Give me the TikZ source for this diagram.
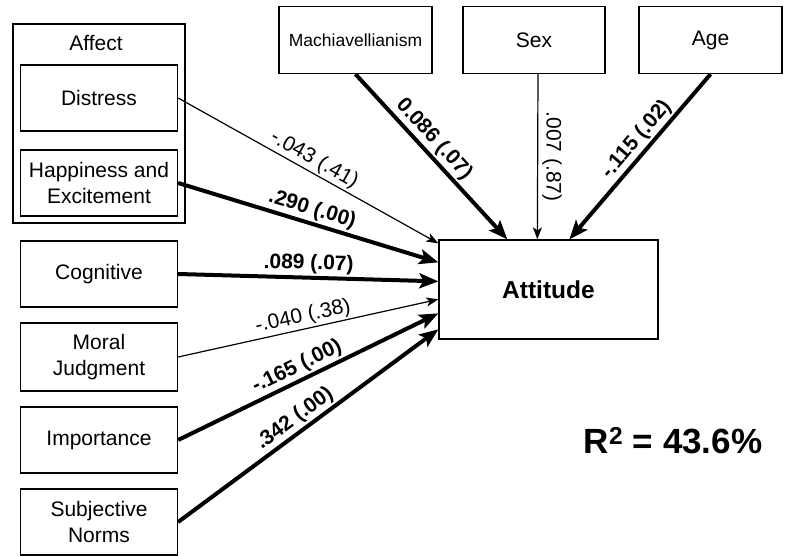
\documentclass[tikz,border=0pt]{standalone}
\usepackage{fontspec}
\setmainfont{Liberation Sans}
\usetikzlibrary{arrows.meta,calc}
\begin{document}
\begin{tikzpicture}[x=1pt,y=-1pt,
  box/.style={draw, line width=1.3pt, inner sep=0pt, align=center, font=\fontsize{21}{26}\selectfont},
  thinarr/.style={line width=1.2pt, -{Stealth[length=12pt,width=9pt,inset=3pt]}},
  thickarr/.style={line width=4pt, -{Stealth[length=19pt,width=15pt,inset=4pt]}},
  lab/.style={font=\fontsize{21}{24}\selectfont, sloped, above, inner sep=2pt},
  blab/.style={lab, font=\fontsize{21}{24}\selectfont\bfseries}]
\useasboundingbox (0,0) rectangle (793,556);
% Affect group
\node[draw, line width=1.3pt, minimum width=172pt, minimum height=199pt, inner sep=0pt] (aff) at (99,123.5) {};
\node[font=\fontsize{21}{24}\selectfont] (afflab) at (96,43) {Affect};
% Affect components
\node[box, minimum width=157pt, minimum height=66pt] (dis) at (99,98) {Distress};
\node[box, minimum width=157pt, minimum height=66pt] (hap) at (99,183) {Happiness and\\Excitement};
% left predictors
\node[box, minimum width=157pt, minimum height=66pt] (cog) at (99,274) {Cognitive};
\node[box, minimum width=157pt, minimum height=68pt] (mor) at (99,357) {Moral\\Judgment};
\node[box, minimum width=157pt, minimum height=66pt] (imp) at (99,440) {Importance};
\node[box, minimum width=157pt, minimum height=66pt] (sub) at (99,522) {Subjective\\Norms};
% top predictors
\node[box, minimum width=153pt, minimum height=67pt, font=\fontsize{17.5}{20}\selectfont] (mach) at (355.5,40) {Machiavellianism};
\node[box, minimum width=142pt, minimum height=67pt] (sex) at (534,40) {Sex};
\node[box, minimum width=143pt, minimum height=67pt] (age) at (710.5,40) {\raisebox{-2pt}{Age}};
% outcome
\node[box, minimum width=219pt, minimum height=99pt, font=\fontsize{24.5}{28}\selectfont\bfseries] (att) at (548.5,289.5) {Attitude};
% R squared
\node[font=\fontsize{35}{40}\selectfont\bfseries] (r2) at (673,441) {R\textsuperscript{2} = 43.6\%};
% paths
\draw[thinarr] (dis.east) -- ($(att.north west)+(0,4)$) node[lab,pos=0.5] {-.043 (.41)};
\draw[thickarr] (hap.east) -- ($(att.north west)+(0,23)$) node[blab,pos=0.5] {.290 (.00)};
\draw[thickarr] (cog.east) -- ($(att.north west)+(0,42)$) node[blab,pos=0.5] {.089 (.07)};
\draw[thinarr] (mor.east) -- ($(att.north west)+(0,60)$) node[lab,pos=0.49] {-.040 (.38)};
\draw[thickarr] (imp.east) -- ($(att.north west)+(0,74)$) node[blab,pos=0.48] {-.165 (.00)};
\draw[thickarr] (sub.east) -- ($(att.north west)+(0,90)$) node[blab,pos=0.48] {.342 (.00)};
\draw[thickarr] (mach.south) -- ($(att.north west)+(69,0)$) node[blab,pos=0.45] {0.086 (.07)};
\draw[thinarr] ($(sex.south)+(4,0)$) -- ($(att.north west)+(99,0)$) node[font=\fontsize{21}{24}\selectfont, rotate=-90, anchor=south, inner sep=4pt, pos=0.5] {.007 (.87)};
\draw[thickarr] (age.south) -- ($(att.north west)+(131,0)$) node[blab,pos=0.45] {-.115 (.02)};
\end{tikzpicture}
\end{document}
